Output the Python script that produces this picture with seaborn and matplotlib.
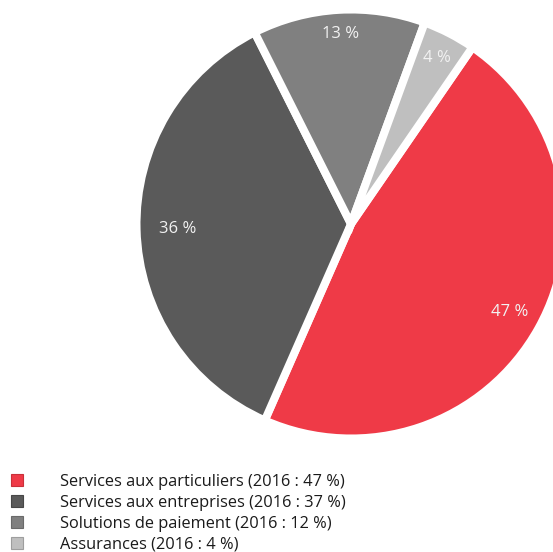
import matplotlib
matplotlib.use("Agg")
import matplotlib.pyplot as plt
from matplotlib.patches import Patch
import seaborn as sns

# Segment shares (%)
segments = ["Services aux particuliers", "Services aux entreprises",
            "Solutions de paiement", "Assurances"]
shares = [47, 36, 13, 4]
shares_2016 = [47, 37, 12, 4]
colors = ["#EF3A47", "#5A5A5A", "#808080", "#BFBFBF"]
edge_colors = ["#C93039", "#474747", "#6A6A6A", "#9E9E9E"]
label_dist = [0.845, 0.81, 0.885, 0.87]

sns.set_theme(style="white")
plt.rcParams["font.family"] = ["Open Sans", "DejaVu Sans"]

W, H = 553, 552
fig = plt.figure(figsize=(W / 100, H / 100), dpi=100)
ax = fig.add_axes([0, 0, 1, 1])

cx, cy, r = 351, 224, 214.5
lw_px = 8
wedges, texts, autotexts = ax.pie(
    shares, colors=colors, startangle=55.5, counterclock=False,
    autopct=lambda p: f"{p:.0f} %", pctdistance=0.86,
    wedgeprops=dict(edgecolor="white", linewidth=lw_px * 72 / 100),
    textprops=dict(color="#F2F2F2", fontsize=12),
)
for t, d in zip(autotexts, label_dist):
    x, y = t.get_position()
    t.set_position((x / 0.86 * d, y / 0.86 * d))

ax.set_aspect("auto")
ax.set_xlim(-cx / r, (W - cx) / r)
ax.set_ylim(-(H - cy) / r, cy / r)
ax.axis("off")

handles = [Patch(facecolor=c, edgecolor=e, linewidth=0.8)
           for c, e in zip(colors, edge_colors)]
labels = [f"{s} (2016 : {v} %)" for s, v in zip(segments, shares_2016)]
fs = 11.8
fig.legend(handles, labels, loc="upper left",
           bbox_to_anchor=(11 / W, 1 - 474 / H), frameon=False,
           fontsize=fs, handlelength=12 / (fs * 100 / 72),
           handleheight=12 / (fs * 100 / 72),
           handletextpad=2.25, labelspacing=0.3, borderpad=0,
           borderaxespad=0, labelcolor="#1A1A1A")

fig.savefig("out.png", dpi=100)
